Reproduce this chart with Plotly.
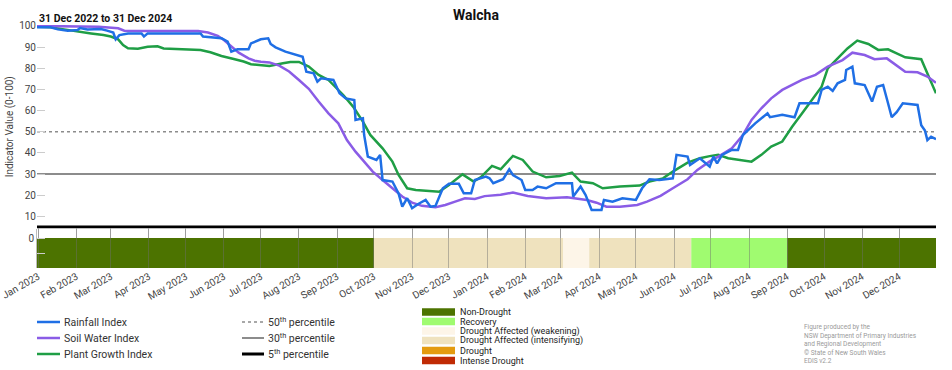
import plotly.graph_objects as go
import pandas as pd

# ---------------- data ----------------
rain_dates = ["2022-12-31","2023-01-11","2023-01-17","2023-01-25","2023-02-02","2023-02-04","2023-02-10","2023-02-21",
    "2023-02-26","2023-03-03","2023-03-05","2023-03-08","2023-03-15","2023-03-26","2023-03-28","2023-03-31","2023-05-13",
    "2023-05-15","2023-05-30","2023-06-04","2023-06-07","2023-06-12","2023-06-21","2023-06-23","2023-07-01","2023-07-07",
    "2023-07-09","2023-07-13","2023-07-21","2023-08-04","2023-08-07","2023-08-13","2023-08-16","2023-08-19","2023-08-29",
    "2023-09-03","2023-09-08","2023-09-15","2023-09-16","2023-09-22","2023-09-23","2023-09-26","2023-10-03","2023-10-06",
    "2023-10-08","2023-10-16","2023-10-21","2023-10-24","2023-10-28","2023-11-01","2023-11-06","2023-11-12","2023-11-16",
    "2023-11-20","2023-11-26","2023-12-01","2023-12-09","2023-12-13","2023-12-19","2023-12-22","2023-12-31","2024-01-03",
    "2024-01-06","2024-01-14","2024-01-19","2024-01-22","2024-01-29","2024-02-01","2024-02-07","2024-02-11","2024-02-18",
    "2024-02-26","2024-03-10","2024-03-11","2024-03-17","2024-03-21","2024-03-26","2024-04-03","2024-04-05","2024-04-12",
    "2024-04-20","2024-05-01","2024-05-06","2024-05-12","2024-05-20","2024-05-31","2024-06-03","2024-06-12","2024-06-14",
    "2024-06-22","2024-06-30","2024-07-03","2024-07-06","2024-07-10","2024-07-18","2024-07-23","2024-07-27","2024-08-06",
    "2024-08-16","2024-08-18","2024-08-28","2024-09-07","2024-09-11","2024-09-26","2024-09-29","2024-10-04","2024-10-08",
    "2024-10-12","2024-10-18","2024-10-19","2024-10-24","2024-10-26","2024-11-03","2024-11-09","2024-11-13","2024-11-18",
    "2024-11-22","2024-11-25","2024-11-29","2024-12-04","2024-12-16","2024-12-19","2024-12-22","2024-12-24","2024-12-27",
    "2024-12-31"]
rain_vals = [99.4,99.4,98.4,97.8,98.1,99.0,98.4,98.6,
    97.8,96.9,93.7,95.7,96.5,96.5,95.0,96.5,96.5,
    95.0,94.2,92.6,87.9,89.0,89.0,91.8,93.7,94.2,
    91.5,89.9,87.9,85.5,78.4,77.6,73.7,75.3,74.5,
    68.2,65.8,65.0,55.6,56.4,48.5,38.3,36.7,39.1,
    27.2,26.5,20.9,14.6,18.6,13.9,15.9,17.8,14.6,
    15.0,23.3,25.4,25.4,20.9,20.9,27.2,28.8,28.0,
    25.7,27.6,32.3,29.6,27.2,22.5,22.5,24.1,23.3,
    25.7,25.7,19.4,24.1,20.2,13.1,13.1,17.8,17.0,
    18.6,17.8,23.3,27.6,27.2,28.0,39.1,38.3,34.3,
    37.5,33.5,38.3,35.1,39.1,41.4,41.4,48.5,54.0,
    58.7,56.9,58.0,56.9,63.5,63.5,69.8,71.3,69.3,
    72.9,74.5,79.2,80.8,72.9,72.1,64.3,71.3,72.1,
    63.5,56.9,59.3,63.5,62.7,53.1,50.6,46.1,47.7,
    46.5]

soil_dates = ["2022-12-31","2023-01-22","2023-02-19","2023-03-07","2023-03-12","2023-03-31","2023-05-11","2023-05-19",
    "2023-05-27","2023-06-01","2023-06-07","2023-06-13","2023-06-21","2023-06-26","2023-07-01","2023-07-08","2023-07-16",
    "2023-07-24","2023-08-01","2023-08-09","2023-08-17","2023-08-25","2023-09-02","2023-09-09","2023-09-16","2023-09-24",
    "2023-09-30","2023-10-08","2023-10-16","2023-10-24","2023-11-01","2023-11-09","2023-11-20","2023-11-28","2023-12-06",
    "2023-12-14","2023-12-22","2023-12-30","2024-01-12","2024-01-22","2024-02-03","2024-02-18","2024-03-06","2024-03-14",
    "2024-03-22","2024-03-30","2024-04-07","2024-04-18","2024-05-02","2024-05-10","2024-05-21","2024-05-31","2024-06-12",
    "2024-06-20","2024-06-30","2024-07-07","2024-07-18","2024-07-27","2024-08-03","2024-08-11","2024-08-19","2024-08-28",
    "2024-09-05","2024-09-13","2024-09-24","2024-10-04","2024-10-16","2024-10-24","2024-11-03","2024-11-11","2024-11-21",
    "2024-11-30","2024-12-06","2024-12-16","2024-12-24","2024-12-31"]
soil_vals = [100,100,99.7,98.9,97.8,97.6,97.6,96.9,
    95.3,93.4,90.2,87.4,84.7,83.6,83.1,82.8,81.3,
    78.5,74.5,70.3,64.3,58.7,54.0,46.1,40.6,35.1,
    31.2,27.2,23.3,19.4,16.5,15.0,14.3,15.4,17.0,
    18.6,18.3,19.6,20.2,21.3,19.7,18.6,19.1,18.6,
    17.8,16.5,14.6,14.6,15.4,17.0,19.7,23.3,27.6,
    32.0,36.0,38.3,42.2,48.5,55.6,61.1,65.8,69.8,
    72.1,74.5,76.9,80.8,83.9,87.4,86.3,84.3,84.7,
    80.8,78.4,78.1,76.1,73.2]

plant_dates = ["2022-12-31","2023-01-11","2023-01-22","2023-02-02","2023-02-13","2023-02-23","2023-03-01","2023-03-07",
    "2023-03-11","2023-03-15","2023-03-23","2023-03-31","2023-04-08","2023-04-13","2023-04-25","2023-05-05","2023-05-13",
    "2023-05-21","2023-05-30","2023-06-09","2023-06-17","2023-06-23","2023-07-01","2023-07-08","2023-07-19","2023-07-25",
    "2023-08-01","2023-08-09","2023-08-17","2023-08-25","2023-09-06","2023-09-14","2023-09-22","2023-09-28","2023-10-08",
    "2023-10-16","2023-10-21","2023-10-28","2023-11-04","2023-11-14","2023-11-23","2023-12-01","2023-12-12","2023-12-21",
    "2023-12-27","2024-01-05","2024-01-12","2024-01-22","2024-01-30","2024-02-07","2024-02-18","2024-02-29","2024-03-10",
    "2024-03-17","2024-03-27","2024-04-04","2024-04-18","2024-05-04","2024-05-12","2024-05-23","2024-05-31","2024-06-12",
    "2024-06-22","2024-06-30","2024-07-07","2024-07-15","2024-07-27","2024-08-03","2024-08-11","2024-08-19","2024-08-28",
    "2024-09-05","2024-09-13","2024-09-21","2024-09-29","2024-10-04","2024-10-12","2024-10-20","2024-10-28","2024-11-06",
    "2024-11-14","2024-11-22","2024-11-29","2024-12-06","2024-12-19","2024-12-24","2024-12-31"]
plant_vals = [99.7,99.4,98.4,97.6,96.5,95.7,95.0,93.7,
    91.0,89.5,89.3,90.2,90.4,89.4,89.1,89.1,88.7,
    87.6,85.8,84.4,83.2,81.9,81.3,81.1,82.4,83.0,
    83.0,80.8,76.9,74.5,67.4,61.9,54.8,48.5,42.2,
    35.9,29.6,23.3,22.5,22.2,21.7,24.9,29.9,26.5,
    28.6,33.9,32.3,38.6,36.7,31.2,28.5,29.1,30.7,
    26.5,25.7,23.3,24.1,24.6,26.5,28.0,31.2,35.4,
    37.5,38.5,39.1,37.5,36.7,35.9,39.1,43.0,45.4,
    52.4,58.7,65.0,71.3,80.0,84.7,89.4,93.1,91.5,
    88.7,89.0,87.1,85.2,84.3,77.6,68.2]

percentile_names = ["50<sup>th</sup> percentile", "30<sup>th</sup> percentile", "5<sup>th</sup> percentile"]
percentile_vals = [50, 30, 5]

band_start = ["2022-12-31", "2023-10-01", "2024-03-03", "2024-03-24", "2024-06-15", "2024-09-01"]
band_end = ["2023-10-01", "2024-03-03", "2024-03-24", "2024-06-15", "2024-09-01", "2024-12-31"]
band_cat = ["Non-Drought", "Drought Affected (intensifying)", "Drought Affected (weakening)",
            "Drought Affected (intensifying)", "Recovery", "Non-Drought"]

categories = ["Non-Drought", "Recovery", "Drought Affected (weakening)",
              "Drought Affected (intensifying)", "Drought", "Intense Drought"]
cat_colors = {"Non-Drought": "#4c7300", "Recovery": "#a0fb70",
              "Drought Affected (weakening)": "#fdf5e8", "Drought Affected (intensifying)": "#efe2be",
              "Drought": "#e49b0f", "Intense Drought": "#c02a04"}

series_names = ["Rainfall Index", "Soil Water Index", "Plant Growth Index"]
series_colors = ["#1f6fe5", "#8a5ce6", "#1f9e45"]

x_start, x_end = "2022-12-31", "2024-12-31"
month_ticks = pd.date_range("2023-01-01", "2024-12-01", freq="MS")

footnote = ["Figure produced by the", "NSW Department of Primary Industries",
            "and Regional Development", "\u00a9 State of New South Wales", "EDIS v2.2"]

# ---------------- layout helpers ----------------
W, H = 952, 370
L, R, T, B = 37, 16, 25, 102
PW, PH = W - L - R, H - T - B
FONT = "Roboto"


def xp(px):
    return (px - L) / PW


def yp(py):
    return (H - B - py) / PH


split = yp(228.5)

fig = go.Figure()

# percentile lines
pct_styles = [dict(color="#8c8c8c", width=1.6, dash="dot"),
              dict(color="#8c8c8c", width=2),
              dict(color="#000000", width=3)]
for name, v, st in zip(percentile_names, percentile_vals, pct_styles):
    fig.add_trace(go.Scatter(x=[x_start, x_end], y=[v, v], mode="lines", line=st,
                             name=name, showlegend=False, hoverinfo="skip",
                             xaxis="x", yaxis="y"))

# index lines
for name, xs, ys, c in zip(series_names[::-1], [plant_dates, soil_dates, rain_dates],
                           [plant_vals, soil_vals, rain_vals], series_colors[::-1]):
    fig.add_trace(go.Scatter(x=xs, y=ys, mode="lines", name=name,
                             line=dict(color=c, width=2.5), showlegend=False,
                             xaxis="x", yaxis="y"))

# drought status band
starts = pd.to_datetime(band_start)
ends = pd.to_datetime(band_end)
widths = [(e - s).total_seconds() * 1000 for s, e in zip(starts, ends)]
fig.add_trace(go.Bar(x=band_start, y=[1] * len(band_start), base=[-1] * len(band_start),
                     width=widths, offset=0,
                     marker=dict(color=[cat_colors[c] for c in band_cat], line=dict(width=0)),
                     hovertext=band_cat, showlegend=False, xaxis="x2", yaxis="y2"))

tickfont = dict(family=FONT, size=10, color="#444")

fig.update_layout(
    width=W, height=H,
    margin=dict(l=L, r=R, t=T, b=B),
    paper_bgcolor="white", plot_bgcolor="white",
    font=dict(family=FONT, color="#333"),
    showlegend=False,
    title=dict(text="<b>Walcha</b>", x=0.5, xanchor="center", y=1 - 15 / H, yanchor="middle",
               font=dict(family=FONT, size=14, color="#111")),
    xaxis=dict(domain=[0, 1], anchor="y", range=[x_start, x_end], matches="x2",
               showticklabels=False, showgrid=False, zeroline=False, showline=False, ticks=""),
    yaxis=dict(domain=[split, 1], anchor="x", range=[4.3, 100.47],
               tickvals=list(range(10, 101, 10)), ticks="inside", ticklen=8, tickcolor="#cccccc",
               tickfont=tickfont, showgrid=False, zeroline=False, showline=False, automargin=False,
               title=dict(text="Indicator Value (0-100)", standoff=3,
                          font=dict(family=FONT, size=10, color="#444"))),
    xaxis2=dict(domain=[0, 1], anchor="y2", range=[x_start, x_end], type="date",
                tickvals=list(month_ticks), tickformat="%b %Y", tickangle=-30,
                tickfont=tickfont, showgrid=True, gridcolor="#c4c4c4", gridwidth=1,
                ticks="inside", ticklen=40, tickcolor="rgba(110,110,110,0.45)",
                layer="above traces", zeroline=False, showline=False, automargin=False),
    yaxis2=dict(domain=[0, split], anchor="x2", range=[-1, 0.3167],
                tickvals=[0, -0.5], ticktext=["0", " "], ticks="inside", ticklen=8,
                tickcolor="#cccccc", tickfont=tickfont, showgrid=False, zeroline=False,
                showline=True, linecolor="#bbbbbb", linewidth=1, automargin=False),
)

annotations = []
shapes = []

# subtitle
annotations.append(dict(text="<b>31 Dec 2022 to 31 Dec 2024</b>", xref="paper", yref="paper",
                        x=xp(37), y=yp(18), xanchor="left", yanchor="middle", showarrow=False,
                        font=dict(family=FONT, size=10.5, color="#111")))

# index legend
leg_y = [322, 338, 354]
for name, c, py in zip(series_names, series_colors, leg_y):
    shapes.append(dict(type="line", xref="paper", yref="paper", x0=xp(37), x1=xp(60),
                       y0=yp(py), y1=yp(py), line=dict(color=c, width=2.5)))
    annotations.append(dict(text=name, xref="paper", yref="paper", x=xp(62), y=yp(py),
                            xanchor="left", yanchor="middle", showarrow=False,
                            font=dict(family=FONT, size=10.5, color="#333")))

# percentile legend
for name, st, py in zip(percentile_names, pct_styles, leg_y):
    shapes.append(dict(type="line", xref="paper", yref="paper", x0=xp(242), x1=xp(264),
                       y0=yp(py), y1=yp(py), line=st))
    annotations.append(dict(text=name, xref="paper", yref="paper", x=xp(266), y=yp(py),
                            xanchor="left", yanchor="middle", showarrow=False,
                            font=dict(family=FONT, size=10.5, color="#333")))

# drought category legend
cat_y = [312, 321.5, 331, 340.5, 350.5, 360.5]
for cat, py in zip(categories, cat_y):
    shapes.append(dict(type="rect", xref="paper", yref="paper", x0=xp(422), x1=xp(455),
                       y0=yp(py - 3.8), y1=yp(py + 3.8), fillcolor=cat_colors[cat],
                       line=dict(width=0)))
    annotations.append(dict(text=cat, xref="paper", yref="paper", x=xp(458), y=yp(py),
                            xanchor="left", yanchor="middle", showarrow=False,
                            font=dict(family=FONT, size=9, color="#222")))

# footnote
foot_y = [327, 335.5, 344, 352.5, 361]
for txt, py in zip(footnote, foot_y):
    annotations.append(dict(text=txt, xref="paper", yref="paper", x=xp(802), y=yp(py),
                            xanchor="left", yanchor="middle", showarrow=False,
                            font=dict(family=FONT, size=6.5, color="#9a9a9a")))

fig.update_layout(annotations=annotations, shapes=shapes)

fig.write_html("out.html", config={"displayModeBar": False},
               post_script="document.body.style.margin='0';document.body.style.padding='0';")
